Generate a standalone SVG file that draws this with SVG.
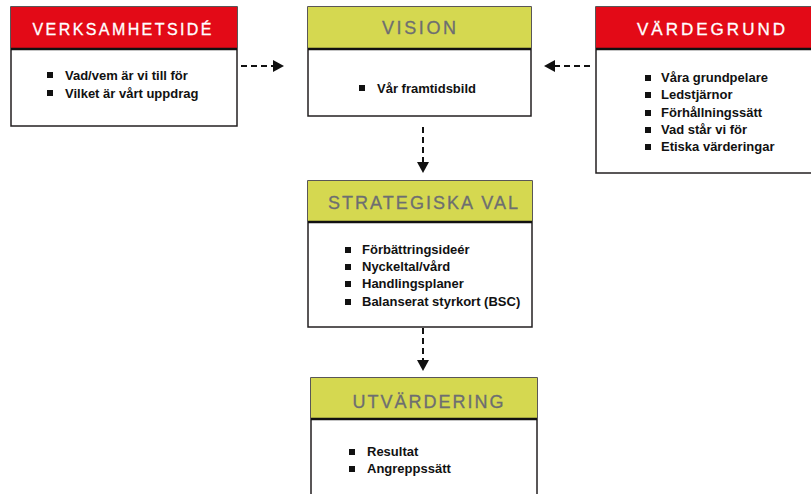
<svg xmlns="http://www.w3.org/2000/svg" width="811" height="494" viewBox="0 0 811 494">
<style>
.box{fill:#fff;stroke:#231f20;stroke-width:1.5}
.red{fill:#e30a17}
.olive{fill:#d5d850}
.div{stroke:#111;stroke-width:2.5}
.hw{font-family:"Liberation Sans",Arial,sans-serif;fill:#fff;text-anchor:middle;stroke:#fff;stroke-width:0.3}
.hg{font-family:"Liberation Sans",Arial,sans-serif;fill:#6d6e71;text-anchor:middle;stroke:#6d6e71;stroke-width:0.3}
.t{font-family:"Liberation Sans",Arial,sans-serif;font-size:13px;font-weight:bold;fill:#111}
.b{fill:#111}
.con{stroke:#111;stroke-width:2;stroke-dasharray:6 4;fill:none}
</style>
<defs>
<marker id="ah" markerUnits="userSpaceOnUse" markerWidth="13" markerHeight="13" refX="1" refY="6" orient="auto">
<path d="M1,0 L12,6 L1,12 Z" fill="#111"/>
</marker>
</defs>

<g id="verksamhetside">
<rect class="box" x="11" y="7" width="226" height="119"/>
<rect class="red" x="11" y="7" width="226" height="42"/>
<line class="div" x1="11" y1="49" x2="237" y2="49"/>
<text class="hw" x="122" y="35" font-size="16" textLength="179" lengthAdjust="spacing">VERKSAMHETSIDÉ</text>
<rect class="b" x="47" y="72" width="6" height="6"/>
<text class="t" x="65" y="80">Vad/vem är vi till för</text>
<rect class="b" x="47" y="90" width="6" height="6"/>
<text class="t" x="65" y="98">Vilket är vårt uppdrag</text>
</g>

<g id="vision">
<rect class="box" x="308" y="7" width="223" height="109"/>
<rect class="olive" x="308" y="7" width="223" height="42"/>
<line class="div" x1="308" y1="49" x2="531" y2="49"/>
<text class="hg" x="419" y="34" font-size="18" textLength="74" lengthAdjust="spacing">VISION</text>
<rect class="b" x="359" y="85" width="6" height="6"/>
<text class="t" x="377" y="93">Vår framtidsbild</text>
</g>

<g id="vardegrund">
<rect class="box" x="596" y="7" width="222" height="166"/>
<rect class="red" x="596" y="7" width="222" height="42"/>
<line class="div" x1="596" y1="49" x2="818" y2="49"/>
<text class="hw" x="711" y="35" font-size="17" textLength="148" lengthAdjust="spacing">VÄRDEGRUND</text>
<rect class="b" x="645" y="75" width="6" height="6"/>
<text class="t" x="661" y="82">Våra grundpelare</text>
<rect class="b" x="645" y="92" width="6" height="6"/>
<text class="t" x="661" y="99">Ledstjärnor</text>
<rect class="b" x="645" y="110" width="6" height="6"/>
<text class="t" x="661" y="117">Förhållningssätt</text>
<rect class="b" x="645" y="127" width="6" height="6"/>
<text class="t" x="661" y="134">Vad står vi för</text>
<rect class="b" x="645" y="144" width="6" height="6"/>
<text class="t" x="661" y="151">Etiska värderingar</text>
</g>

<g id="strategiska">
<rect class="box" x="308" y="181" width="224" height="146"/>
<rect class="olive" x="308" y="181" width="224" height="41"/>
<line class="div" x1="308" y1="222" x2="532" y2="222"/>
<text class="hg" x="423" y="209" font-size="18" textLength="190" lengthAdjust="spacing">STRATEGISKA VAL</text>
<rect class="b" x="345" y="247" width="6" height="6"/>
<text class="t" x="362" y="254">Förbättringsideér</text>
<rect class="b" x="345" y="264" width="6" height="6"/>
<text class="t" x="362" y="271">Nyckeltal/vård</text>
<rect class="b" x="345" y="281" width="6" height="6"/>
<text class="t" x="362" y="288">Handlingsplaner</text>
<rect class="b" x="345" y="299" width="6" height="6"/>
<text class="t" x="362" y="306">Balanserat styrkort (BSC)</text>
</g>

<g id="utvardering">
<rect class="box" x="311" y="378" width="226" height="130"/>
<rect class="olive" x="311" y="378" width="226" height="41"/>
<line class="div" x1="311" y1="419" x2="537" y2="419"/>
<text class="hg" x="428" y="408" font-size="18" textLength="151" lengthAdjust="spacing">UTVÄRDERING</text>
<rect class="b" x="349" y="449" width="6" height="6"/>
<text class="t" x="367" y="456">Resultat</text>
<rect class="b" x="349" y="466" width="6" height="6"/>
<text class="t" x="367" y="473">Angreppssätt</text>
</g>

<g id="connectors">
<line class="con" x1="241" y1="66" x2="273" y2="66" marker-end="url(#ah)"/>
<line class="con" x1="590" y1="66" x2="555" y2="66" marker-end="url(#ah)"/>
<line class="con" x1="423" y1="127" x2="423" y2="162" marker-end="url(#ah)"/>
<line class="con" x1="423" y1="328" x2="423" y2="360" marker-end="url(#ah)"/>
</g>
</svg>
